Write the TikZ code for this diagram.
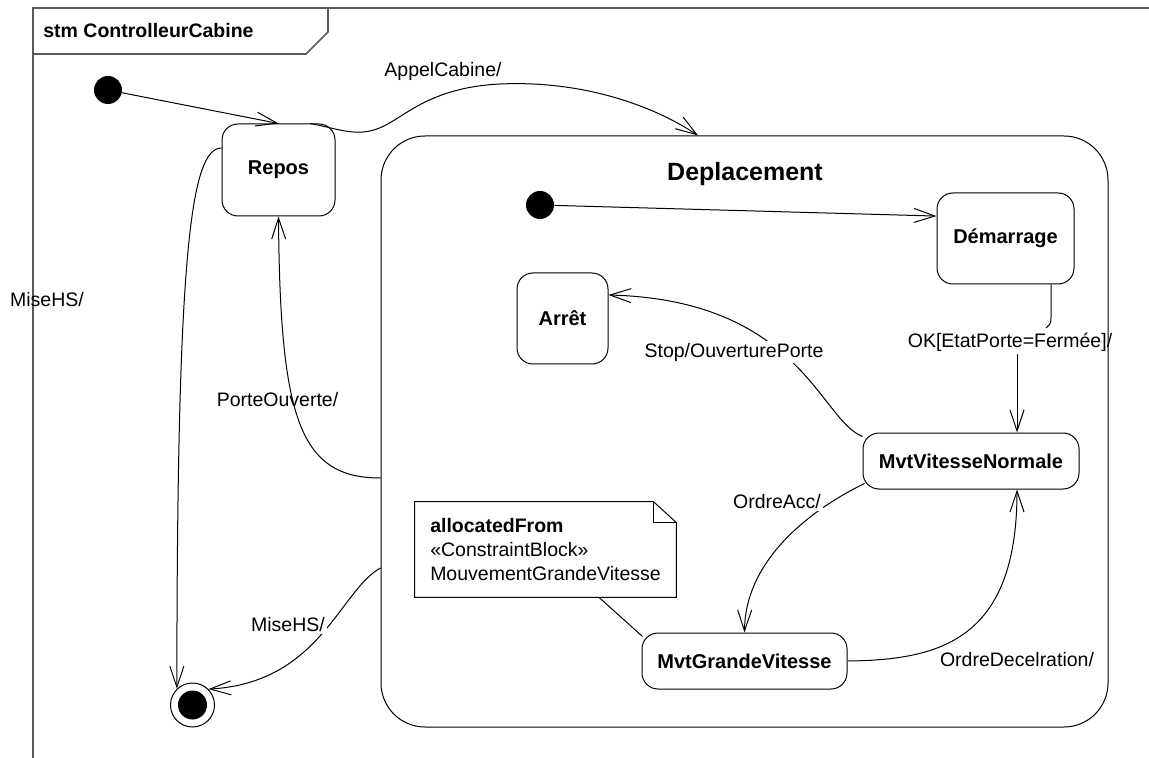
\documentclass[tikz,border=0pt]{standalone}
\usepackage{fontspec}
\setmainfont{Liberation Sans}
\usetikzlibrary{arrows.meta, calc}
\tikzset{
    % Simple states - rounded boxes, bold names
    state box/.style={rectangle, draw, line width=0.5pt, rounded corners=8pt, fill=white,
        font=\fontsize{10}{12}\selectfont\bfseries, inner sep=2pt},
    % Composite state - large rounded box
    composite/.style={rectangle, draw, line width=0.5pt, rounded corners=22pt},
    % Pseudo states - initial dot and final bull's eye
    initial point/.style={circle, fill=black, inner sep=0pt, minimum size=14pt},
    final point/.style={circle, draw, line width=0.5pt, fill=white, inner sep=0pt, minimum size=22pt},
    % Transitions - thin lines with open barb tips
    trans/.style={line width=0.5pt, -{Straight Barb[length=10.5pt,width=7pt]}},
    link/.style={line width=0.5pt},
    % Frame of the diagram
    frame line/.style={line width=0.8pt, black!65},
    % Transition labels
    trans label/.style={font=\fontsize{9.75}{12}\selectfont, inner sep=1pt},
    note text/.style={font=\fontsize{9.75}{12}\selectfont, align=left, inner sep=0pt,
        minimum width=130.5pt, minimum height=47.5pt}
}

\begin{document}
\begin{tikzpicture}[x=0.5pt, y=-0.5pt]
    \useasboundingbox (0,0) rectangle (1149,758);

    % --- Frame ---
    \draw[frame line] (33,758) -- (33,8) -- (1149,8);
    \draw[frame line] (33,54) -- (306,54) -- (328,32) -- (328,8);
    \node[anchor=west, inner sep=0pt, font=\fontsize{9.75}{12}\selectfont\bfseries] (title) at (43,31) {stm ControlleurCabine};

    % --- States ---
    \node[composite, minimum width=363.5pt, minimum height=295.5pt] (depl) at (744.5,431.5) {};
    \node[font=\fontsize{12.5}{15}\selectfont\bfseries] (depltitle) at (745,174) {Deplacement};

    \node[initial point] (init) at (108,90) {};
    \node[state box, minimum width=56.5pt, minimum height=46pt] (repos) at (278.5,170) {Repos};
    \node[final point] (fin) at (192.5,705) {};
    \fill (fin) circle (7.25pt);

    \node[initial point] (init2) at (540,205) {};
    \node[state box, minimum width=68.5pt, minimum height=45.5pt] (dem) at (1005.5,238.5) {Démarrage};
    \node[state box, minimum width=45.5pt, minimum height=45.5pt] (arret) at (562.5,318.5) {Arrêt};
    \node[state box, minimum width=108pt, minimum height=28pt] (mvn) at (971,461) {MvtVitesseNormale};
    \node[state box, minimum width=102.5pt, minimum height=28pt] (mgv) at (744.5,661) {MvtGrandeVitesse};

    % --- Note ---
    \node[note text] (note) at (545.5,549.5) {\textbf{allocatedFrom}\\«ConstraintBlock»\\MouvementGrandeVitesse};
    \draw[link] (note.south west) -- (note.north west) -- ([xshift=-11.5pt]note.north east)
        -- ([yshift=-10.5pt]note.north east) -- (note.south east) -- cycle;
    \draw[link] ([xshift=-11.5pt]note.north east) -- ([xshift=-11.5pt,yshift=-10.5pt]note.north east)
        -- ([yshift=-10.5pt]note.north east);
    \draw[link] ($(note.south)+(53.5,0)$) -- ($(mgv.north west)+(1,4)$);

    % --- Top level transitions ---
    \draw[trans] (init) -- (repos.north);
    \draw[trans] ($(repos.north)+(31.5,0)$) .. controls (335,128) and (350,135) .. (370,131)
        .. controls (400,125) and (420,88) .. (500,84)
        .. controls (590,80) and (660,110) .. ($(depl.north)+(-46.5,0)$);
    \node[trans label] (appel) at (443,71) {AppelCabine/};

    \draw[trans] ($(repos.west)+(0,-22)$) .. controls (190,148) and (177,260) .. (fin.134);
    \node[trans label] (misehs1) at (47,300) {MiseHS/};

    \draw[trans] ($(depl.west)+(0,46.5)$) .. controls (300,478) and (280,420) .. (repos.south);
    \node[trans label] (porte) at (277.5,400) {PorteOuverte/};

    \draw[trans] ($(depl.west)+(0,136.5)$) .. controls (340,590) and (320,683) .. (fin.45);
    \node[trans label, fill=white] (misehs2) at (288,625) {MiseHS/};

    % --- Inner transitions ---
    \draw[trans] (init2) -- (dem.162);

    \node[trans label] (okl) at (1010,342) {OK[EtatPorte=Fermée]/};
    \coordinate (okin) at (1046,328);
    \coordinate (okout) at (1017,354);
    \draw[link] ($(dem.south)+(45.5,0)$) -- (1051,318) .. controls (1051,324) and (1049,326) .. (okin);
    \draw[trans] (okout) -- (okout |- mvn.north);

    \draw[trans] ($(mvn.north west)+(0,4)$) .. controls (820,420) and (800,300) .. ($(arret.east)+(0,-23.5)$);
    \node[trans label, fill=white] (stop) at (734,352) {Stop/OuverturePorte};

    \draw[trans] ($(mvn.south west)+(2,-6)$) .. controls (810,510) and (745,560) .. (mgv.north);
    \node[trans label, fill=white] (acc) at (777,502) {OrdreAcc/};

    \draw[trans] (mgv.east) .. controls (940,660) and (1017,640) .. ($(mvn.south)+(46,0)$);
    \node[trans label, fill=white] (decel) at (1017,660) {OrdreDecelration/};
\end{tikzpicture}
\end{document}
